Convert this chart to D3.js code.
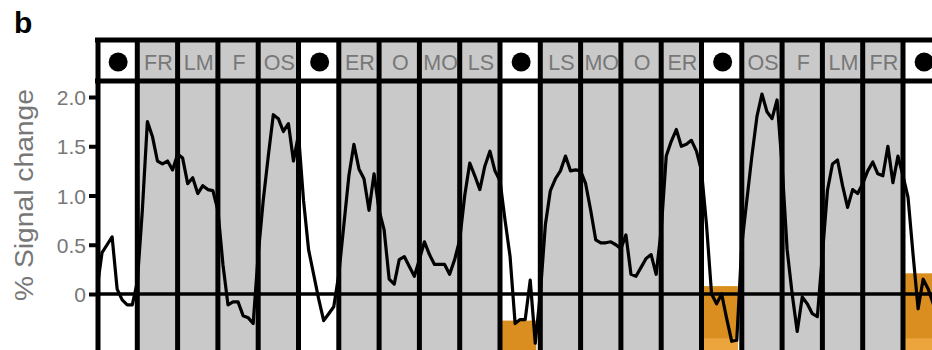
<!DOCTYPE html>
<html><head><meta charset="utf-8">
<script src="https://cdn.jsdelivr.net/npm/d3@7/dist/d3.min.js"></script>
<style>html,body{margin:0;padding:0;background:#fff;overflow:hidden}</style>
</head><body>
<svg id="chart" width="932" height="350"></svg>
<script>
// ---- data ----
const blockLabels = ["", "FR", "LM", "F", "OS", "", "ER", "O", "MO", "LS", "", "LS", "MO", "O", "ER", "", "OS", "F", "LM", "FR", ""];
const fixationBlocks = [0, 5, 10, 15, 20];
const samplesPerBlock = 8;
const yTicks = [0, 0.5, 1.0, 1.5, 2.0];
const yTickLabels = ["0", "0.5", "1.0", "1.5", "2.0"];
const signal = [
  0.05, 0.42, 0.5, 0.58, 0.05, -0.06, -0.11, -0.11,
  0.12, 0.85, 1.75, 1.6, 1.35, 1.32, 1.35, 1.26,
  1.42, 1.38, 1.12, 1.18, 1.02, 1.1, 1.06, 1.05,
  0.85, 0.3, -0.11, -0.08, -0.08, -0.22, -0.24, -0.3,
  0.4, 0.95, 1.4, 1.82, 1.78, 1.65, 1.73, 1.35,
  1.62, 0.95, 0.45, 0.2, -0.05, -0.27, -0.2, -0.13,
  0.2, 0.7, 1.2, 1.52, 1.27, 1.17, 0.85, 1.22,
  0.85, 0.65, 0.15, 0.1, 0.35, 0.38, 0.28, 0.18,
  0.35, 0.53, 0.4, 0.3, 0.3, 0.3, 0.2, 0.35,
  0.55, 1.0, 1.33, 1.2, 1.06, 1.3, 1.45, 1.25,
  1.15, 0.75, 0.38, -0.3, -0.26, -0.26, 0.14, -0.5,
  0.0, 0.7, 1.05, 1.17, 1.25, 1.4, 1.25, 1.26,
  1.25, 1.12, 0.85, 0.55, 0.52, 0.52, 0.53, 0.5,
  0.46, 0.6, 0.2, 0.18, 0.27, 0.36, 0.4, 0.2,
  0.65, 1.4, 1.55, 1.67, 1.5, 1.52, 1.56, 1.45,
  1.25, 0.7, 0.0, -0.1, 0.0, -0.25, -0.48, -0.47,
  0.5, 0.95, 1.4, 1.8, 2.03, 1.85, 1.78, 1.97,
  1.3, 0.45, 0.0, -0.38, -0.03, -0.1, -0.2, -0.23,
  0.4, 1.05, 1.32, 1.36, 1.1, 0.88, 1.06, 1.02,
  1.12, 1.25, 1.34, 1.22, 1.2, 1.5, 1.13, 1.4,
  1.2, 0.98, 0.4, -0.15, 0.15, 0.05, -0.1, -0.2
];
const orangeBlocks = [10, 15, 20];
const orangeLevels = [-0.27, 0.08, 0.21];

// ---- layout ----
const svg = d3.select("#chart");
const W = 932, H = 350;
const left = 97, blockW = 40.3;
const headTop = 38, headBot = 81, plotBottom = 352;
const nBlocks = blockLabels.length;
const nSamples = nBlocks * samplesPerBlock;

const x = d3.scaleLinear().domain([0, nSamples]).range([left, left + nBlocks * blockW]);
const y = d3.scaleLinear().domain([0, 2]).range([294, 97]);

const grayFill = "#c9c9c9";
const textGray = "#777777";

// clip
svg.append("defs").append("clipPath").attr("id", "plotClip")
  .append("rect").attr("x", left).attr("y", headBot).attr("width", W - left).attr("height", plotBottom - headBot);

// block backgrounds (plot + header)
const blocks = d3.range(nBlocks);
svg.append("g").selectAll("rect").data(blocks).join("rect")
  .attr("x", d => x(d * samplesPerBlock))
  .attr("y", headTop)
  .attr("width", blockW)
  .attr("height", plotBottom - headTop)
  .attr("fill", d => fixationBlocks.includes(d) ? "#ffffff" : grayFill);

// orange areas
const og = svg.append("g").attr("clip-path", "url(#plotClip)");
orangeBlocks.forEach((b, i) => {
  og.append("rect")
    .attr("x", x(b * samplesPerBlock))
    .attr("y", y(orangeLevels[i]))
    .attr("width", blockW - 4)
    .attr("height", plotBottom - y(orangeLevels[i]))
    .attr("fill", "#d98e1f");
  if (b !== 10) {
    og.append("rect")
      .attr("x", x(b * samplesPerBlock))
      .attr("y", y(-0.45))
      .attr("width", blockW - 4)
      .attr("height", plotBottom - y(-0.45))
      .attr("fill", "#eca53c");
  }
});

// zero line
svg.append("line")
  .attr("x1", left).attr("x2", W)
  .attr("y1", y(0)).attr("y2", y(0))
  .attr("stroke", "#000").attr("stroke-width", 3.5);

// signal line
const line = d3.line().x((d, i) => x(i)).y(d => y(d));
svg.append("path")
  .datum(signal)
  .attr("clip-path", "url(#plotClip)")
  .attr("d", line)
  .attr("fill", "none")
  .attr("stroke", "#000")
  .attr("stroke-width", 3.2)
  .attr("stroke-linejoin", "round");

// vertical dividers
svg.append("g").selectAll("line").data(d3.range(1, nBlocks + 1)).join("line")
  .attr("x1", d => x(d * samplesPerBlock)).attr("x2", d => x(d * samplesPerBlock))
  .attr("y1", headTop).attr("y2", plotBottom)
  .attr("stroke", "#000").attr("stroke-width", 5);

// header borders
svg.append("line").attr("x1", left - 2).attr("x2", W).attr("y1", headTop + 2).attr("y2", headTop + 2)
  .attr("stroke", "#000").attr("stroke-width", 5);
svg.append("line").attr("x1", left - 2).attr("x2", W).attr("y1", headBot).attr("y2", headBot)
  .attr("stroke", "#000").attr("stroke-width", 5);
// left border / y axis
svg.append("line").attr("x1", left + 1).attr("x2", left + 1).attr("y1", headTop).attr("y2", plotBottom)
  .attr("stroke", "#000").attr("stroke-width", 5);

// header labels and dots
const hg = svg.append("g");
blocks.forEach(b => {
  const cx = x(b * samplesPerBlock) + blockW / 2 + 1;
  if (fixationBlocks.includes(b)) {
    hg.append("circle").attr("cx", cx).attr("cy", 62).attr("r", 9.5).attr("fill", "#000");
  } else {
    hg.append("text").attr("x", cx).attr("y", 70)
      .attr("text-anchor", "middle")
      .attr("font-family", "Liberation Sans, Arial, sans-serif")
      .attr("font-size", 21.5)
      .attr("fill", textGray)
      .text(blockLabels[b]);
  }
});

// y axis ticks
const axis = d3.axisLeft(y).tickValues(yTicks).tickFormat((d, i) => yTickLabels[i]).tickSize(8).tickPadding(3);
const ag = svg.append("g").attr("transform", `translate(${left},0)`).call(axis);
ag.select(".domain").remove();
ag.selectAll(".tick line").attr("stroke", "#000").attr("stroke-width", 4);
ag.selectAll(".tick text")
  .attr("font-family", "Liberation Sans, Arial, sans-serif")
  .attr("font-size", 21)
  .attr("fill", textGray)
  .attr("dy", "0.36em");

// y axis title
svg.append("text")
  .attr("transform", "translate(33,195) rotate(-90)")
  .attr("text-anchor", "middle")
  .attr("font-family", "Liberation Sans, Arial, sans-serif")
  .attr("font-size", 25)
  .attr("fill", textGray)
  .attr("textLength", 212)
  .attr("lengthAdjust", "spacingAndGlyphs")
  .text("% Signal change");

// panel letter
svg.append("text").attr("x", 14).attr("y", 33)
  .attr("font-family", "Liberation Sans, Arial, sans-serif")
  .attr("font-weight", "bold").attr("font-size", 30).attr("fill", "#000")
  .text("b");
</script>
</body></html>
